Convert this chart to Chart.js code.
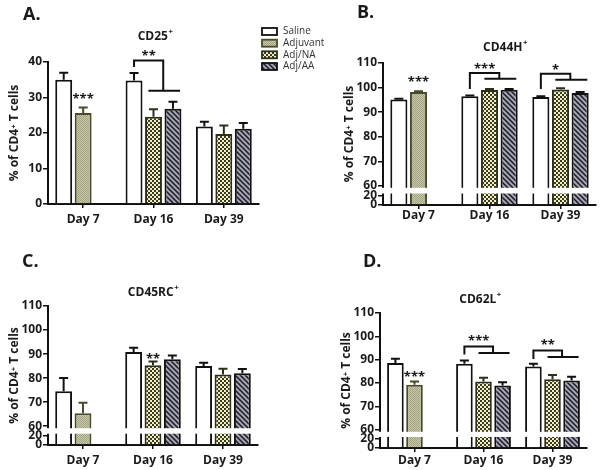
<!DOCTYPE html>
<html><head><meta charset="utf-8">
<script src="https://cdn.jsdelivr.net/npm/chart.js@4.4.1/dist/chart.umd.min.js"></script>
<style>
html,body{margin:0;padding:0;background:#fff;width:600px;height:470px;overflow:hidden;position:relative}
.p{position:absolute}
</style></head><body>
<div class="p" style="left:0;top:0"><canvas id="ca" width="340" height="235"></canvas></div>
<div class="p" style="left:300px;top:0"><canvas id="cb" width="300" height="235"></canvas></div>
<div class="p" style="left:0;top:240px"><canvas id="cc" width="300" height="230"></canvas></div>
<div class="p" style="left:300px;top:240px"><canvas id="cd" width="300" height="230"></canvas></div>
<script>
// ---------------- DATA ----------------
const categories = ['Day 7', 'Day 16', 'Day 39'];
const seriesLabels = ['Saline', 'Adjuvant', 'Adj/NA', 'Adj/AA'];

// A. CD25+
const cd25Saline      = [35.0, 34.8, 21.8];
const cd25SalineSem   = [2.0, 2.1, 1.4];
const cd25Adjuvant    = [25.6, null, null];
const cd25AdjuvantSem = [1.6, null, null];
const cd25AdjNA       = [null, 24.6, 19.7];
const cd25AdjNASem    = [null, 2.1, 2.4];
const cd25AdjAA       = [null, 26.8, 21.2];
const cd25AdjAASem    = [null, 2.0, 1.6];

// B. CD44H+
const cd44Saline      = [95.1, 96.5, 96.2];
const cd44SalineSem   = [0.3, 0.3, 0.3];
const cd44Adjuvant    = [98.2, null, null];
const cd44AdjuvantSem = [0.3, null, null];
const cd44AdjNA       = [null, 99.0, 99.2];
const cd44AdjNASem    = [null, 0.4, 0.5];
const cd44AdjAA       = [null, 99.1, 97.8];
const cd44AdjAASem    = [null, 0.3, 0.4];

// C. CD45RC+
const cd45Saline      = [74.6, 90.9, 85.1];
const cd45SalineSem   = [5.5, 1.7, 1.3];
const cd45Adjuvant    = [65.4, null, null];
const cd45AdjuvantSem = [4.4, null, null];
const cd45AdjNA       = [null, 85.4, 81.5];
const cd45AdjNASem    = [null, 1.5, 2.4];
const cd45AdjAA       = [null, 87.9, 82.0];
const cd45AdjAASem    = [null, 1.5, 1.8];

// D. CD62L+
const cd62Saline      = [88.6, 88.3, 87.1];
const cd62SalineSem   = [1.8, 1.4, 1.2];
const cd62Adjuvant    = [79.3, null, null];
const cd62AdjuvantSem = [1.4, null, null];
const cd62AdjNA       = [null, 80.7, 81.6];
const cd62AdjNASem    = [null, 1.6, 1.8];
const cd62AdjAA       = [null, 79.0, 81.1];
const cd62AdjAASem    = [null, 1.4, 1.6];

const ticksCD25   = [0, 10, 20, 30, 40];
const ticksBroken = [0, 20, 60, 70, 80, 90, 100, 110];

// ---------------- STYLE / LAYOUT ----------------
const FONT = "'Open Sans', 'DejaVu Sans', sans-serif";
const TXT = '#1a1a1a';

function makePattern(size, draw) {
  const c = document.createElement('canvas');
  c.width = c.height = size;
  const g = c.getContext('2d');
  draw(g, size);
  return g.createPattern(c, 'repeat');
}
const patAdj = makePattern(2, (g) => {
  g.fillStyle = '#c6c6a9'; g.fillRect(0, 0, 2, 2);
  g.fillStyle = '#a4a484'; g.fillRect(0, 0, 1, 1); g.fillRect(1, 1, 1, 1);
});
const patNA = makePattern(4, (g) => {
  g.fillStyle = '#f1f1c4'; g.fillRect(0, 0, 4, 4);
  g.fillStyle = '#3a3a24'; g.fillRect(0, 0, 2, 2); g.fillRect(2, 2, 2, 2);
});
const patAA = makePattern(5, (g) => {
  g.fillStyle = '#a4a4b2'; g.fillRect(0, 0, 5, 5);
  g.strokeStyle = '#1a1a22'; g.lineWidth = 1.5;
  g.beginPath();
  g.moveTo(-1, -1); g.lineTo(6, 6);
  g.moveTo(-1, 4); g.lineTo(1, 6);
  g.moveTo(4, -1); g.lineTo(6, 1);
  g.stroke();
});
const SERIES_STYLE = [
  { bg: '#ffffff', border: '#111111', stack: 's1' },
  { bg: patAdj,    border: '#4a4a2c', stack: 's2' },
  { bg: patNA,     border: '#2e2e1c', stack: 's2' },
  { bg: patAA,     border: '#111111', stack: 's3' }
];

// broken axis scale: 0-20 | gap | 60-max
const LF = 0.067, GF = 0.068;
function brokenDecimal(v, max) {
  if (v <= 20) return v / 20 * LF;
  if (v <= 60) return LF + (v - 20) / 40 * GF;
  return LF + GF + (v - 60) / (max - 60) * (1 - LF - GF);
}
class BrokenScale extends Chart.LinearScale {
  getPixelForValue(value) {
    if (value === null || value === undefined || isNaN(value)) return NaN;
    return this.getPixelForDecimal(brokenDecimal(value, this.max));
  }
  getValueForPixel(pixel) {
    const d = this.getDecimalForPixel(pixel);
    if (d <= LF) return d / LF * 20;
    if (d <= LF + GF) return 20 + (d - LF) / GF * 40;
    return 60 + (d - LF - GF) / (1 - LF - GF) * (this.max - 60);
  }
}
BrokenScale.id = 'broken';
BrokenScale.defaults = Chart.LinearScale.defaults;
Chart.register(BrokenScale);

const PANELS = {
  ca: { pad: {left: 0, right: 81, top: 62, bottom: 0}, xh: 31, xpad: 4, max: 40, ticks: ticksCD25, broken: false,
        letter: {text: 'A.', x: 23, y: 20}, title: {text: 'CD25', x: 155, y: 37}, legend: true,
        stars: [{cat: 0, series: 1, y: 30.7, text: '***'}],
        brackets: [{cat: 1, left: 38.6, top: 40.4, right: 31.9, text: '**', textY: 42.8}] },
  cb: { pad: {left: 35, right: 4, top: 63, bottom: 0}, xh: 30, xpad: -1, max: 110, ticks: ticksBroken, broken: true,
        letter: {text: 'B.', x: 57, y: 18}, title: {text: 'CD44H', x: 205, y: 48}, legend: false,
        stars: [{cat: 0, series: 1, y: 103.6, text: '***'}],
        brackets: [{cat: 1, left: 99.4, top: 105.9, right: 103.6, text: '***', textY: 109.0},
                   {cat: 2, left: 99.4, top: 105.6, right: 103.2, text: '*', textY: 108.6}] },
  cc: { pad: {left: 0, right: 42, top: 66, bottom: 0}, xh: 25, xpad: 4, max: 110, ticks: ticksBroken, broken: true,
        letter: {text: 'C.', x: 22, y: 27}, title: {text: 'CD45RC', x: 153, y: 53}, legend: false,
        stars: [{cat: 1, series: 2, y: 89.6, text: '**'}],
        brackets: [] },
  cd: { pad: {left: 32, right: 13, top: 73, bottom: 0}, xh: 22, xpad: 1.5, max: 110, ticks: ticksBroken, broken: true,
        letter: {text: 'D.', x: 63, y: 27}, title: {text: 'CD62L', x: 180, y: 60}, legend: false,
        stars: [{cat: 0, series: 1, y: 84.3, text: '***'}],
        brackets: [{cat: 1, left: 92.2, top: 95.7, right: 92.9, text: '***', textY: 99.4},
                   {cat: 2, left: 90.3, top: 93.9, right: 91.2, text: '**', textY: 97.9}] }
};

function drawStars(ctx, text, x, yc) {
  ctx.font = 'bold 13px ' + FONT;
  ctx.fillStyle = TXT; ctx.textAlign = 'center'; ctx.textBaseline = 'alphabetic';
  ctx.fillText(text, x, yc + 7.6);
}
function supText(ctx, base, cx, cy, size) {
  ctx.font = 'bold ' + size + 'px ' + FONT; const bw = ctx.measureText(base).width;
  ctx.font = 'bold ' + (size * 0.65) + 'px ' + FONT; const sw = ctx.measureText('+').width;
  const x0 = cx - (bw + sw) / 2;
  ctx.fillStyle = TXT; ctx.textAlign = 'left'; ctx.textBaseline = 'middle';
  ctx.font = 'bold ' + size + 'px ' + FONT; ctx.fillText(base, x0, cy);
  ctx.font = 'bold ' + (size * 0.65) + 'px ' + FONT; ctx.fillText('+', x0 + bw + 0.5, cy - size * 0.42);
}

const annot = {
  id: 'annot',
  afterDatasetsDraw(chart) {
    const P = PANELS[chart.canvas.id];
    const ctx = chart.ctx, ys = chart.scales.y, ca = chart.chartArea;
    ctx.save();
    if (P.broken) {
      const y60 = ys.getPixelForValue(60), y20 = ys.getPixelForValue(20);
      ctx.fillStyle = '#ffffff';
      ctx.fillRect(ca.left - 1.5, y60 + 2, ca.right - ca.left + 3, (y20 - 2) - (y60 + 2));
    }
    // error bars (SEM)
    chart.data.datasets.forEach((d, i) => {
      const meta = chart.getDatasetMeta(i);
      meta.data.forEach((bar, j) => {
        const v = d.data[j], e = d.errors[j];
        if (v === null || e === null) return;
        const top = ys.getPixelForValue(v + e);
        ctx.strokeStyle = d.borderColor; ctx.lineWidth = 2; ctx.lineCap = 'butt';
        ctx.beginPath();
        ctx.moveTo(bar.x, bar.y); ctx.lineTo(bar.x, top);
        ctx.moveTo(bar.x - 4.5, top); ctx.lineTo(bar.x + 4.5, top);
        ctx.stroke();
      });
    });
    // significance brackets
    P.brackets.forEach((b) => {
      const sal = chart.getDatasetMeta(0).data[b.cat];
      const na = chart.getDatasetMeta(2).data[b.cat];
      const aa = chart.getDatasetMeta(3).data[b.cat];
      const xl = sal.x, xr = (na.x + aa.x) / 2;
      const yl = ys.getPixelForValue(b.left), yt = ys.getPixelForValue(b.top), yr = ys.getPixelForValue(b.right);
      ctx.strokeStyle = '#111'; ctx.lineWidth = 2; ctx.lineJoin = 'miter';
      ctx.beginPath();
      ctx.moveTo(xl, yl); ctx.lineTo(xl, yt); ctx.lineTo(xr, yt); ctx.lineTo(xr, yr);
      ctx.moveTo(na.x - na.width * 0.3, yr); ctx.lineTo(aa.x + aa.width * 0.42, yr);
      ctx.stroke();
      drawStars(ctx, b.text, (xl + xr) / 2, ys.getPixelForValue(b.textY));
    });
    P.stars.forEach((s) => {
      const bar = chart.getDatasetMeta(s.series).data[s.cat];
      drawStars(ctx, s.text, bar.x, ys.getPixelForValue(s.y));
    });
    ctx.restore();
  },
  afterDraw(chart) {
    const P = PANELS[chart.canvas.id];
    const ctx = chart.ctx;
    ctx.save();
    ctx.fillStyle = TXT; ctx.font = 'bold 18px ' + FONT; ctx.textAlign = 'left'; ctx.textBaseline = 'alphabetic';
    ctx.fillText(P.letter.text, P.letter.x, P.letter.y);
    supText(ctx, P.title.text, P.title.x, P.title.y, 12);
    if (P.legend) {
      const rows = [28, 39.7, 51.3, 63];
      chart.data.datasets.forEach((d, i) => {
        ctx.fillStyle = d.backgroundColor; ctx.fillRect(262, rows[i], 15, 7);
        ctx.strokeStyle = d.borderColor; ctx.lineWidth = 1.8; ctx.strokeRect(262, rows[i], 15, 7);
        ctx.fillStyle = '#333'; ctx.font = '10px ' + FONT; ctx.textBaseline = 'middle'; ctx.textAlign = 'left';
        ctx.fillText(d.label, 283, rows[i] + 3.5);
      });
    }
    ctx.restore();
  }
};

function makeChart(id, series) {
  const P = PANELS[id];
  const datasets = series.map((s, i) => ({
    label: seriesLabels[i], data: s[0], errors: s[1], stack: SERIES_STYLE[i].stack,
    backgroundColor: SERIES_STYLE[i].bg, borderColor: SERIES_STYLE[i].border,
    borderWidth: 2, borderSkipped: 'start', categoryPercentage: 0.83, barPercentage: 0.87
  }));
  return new Chart(document.getElementById(id), {
    type: 'bar',
    data: { labels: categories, datasets },
    options: {
      responsive: false, animation: false, events: [],
      layout: { padding: P.pad },
      plugins: { legend: { display: false }, tooltip: { enabled: false } },
      scales: {
        x: {
          type: 'category',
          grid: { offset: false, drawOnChartArea: false, drawTicks: true, tickLength: 4, color: '#111', lineWidth: 1.5 },
          border: { display: true, color: '#111', width: 2 },
          ticks: { font: { family: FONT, size: 12, weight: 'bold' }, color: TXT, padding: P.xpad, maxRotation: 0 },
          afterFit: (s) => { s.height = P.xh; }
        },
        y: {
          type: P.broken ? 'broken' : 'linear', min: 0, max: P.max, stacked: false,
          afterBuildTicks: (s) => { s.ticks = P.ticks.map((v) => ({ value: v })); },
          grid: { drawOnChartArea: false, drawTicks: true, tickLength: 5, color: '#111', lineWidth: 1.5 },
          border: { display: true, color: '#111', width: 2 },
          ticks: { autoSkip: false, font: { family: FONT, size: 12, weight: 'bold' }, color: TXT, padding: 1 },
          title: { display: true, text: '% of CD4\u207A T cells', color: TXT,
                   font: { family: FONT, size: 12, weight: 'bold' }, padding: { top: 7, bottom: 0 } },
          afterFit: (s) => { s.width = 48; }
        }
      }
    },
    plugins: [annot]
  });
}

makeChart('ca', [[cd25Saline, cd25SalineSem], [cd25Adjuvant, cd25AdjuvantSem], [cd25AdjNA, cd25AdjNASem], [cd25AdjAA, cd25AdjAASem]]);
makeChart('cb', [[cd44Saline, cd44SalineSem], [cd44Adjuvant, cd44AdjuvantSem], [cd44AdjNA, cd44AdjNASem], [cd44AdjAA, cd44AdjAASem]]);
makeChart('cc', [[cd45Saline, cd45SalineSem], [cd45Adjuvant, cd45AdjuvantSem], [cd45AdjNA, cd45AdjNASem], [cd45AdjAA, cd45AdjAASem]]);
makeChart('cd', [[cd62Saline, cd62SalineSem], [cd62Adjuvant, cd62AdjuvantSem], [cd62AdjNA, cd62AdjNASem], [cd62AdjAA, cd62AdjAASem]]);
</script>
</body></html>
